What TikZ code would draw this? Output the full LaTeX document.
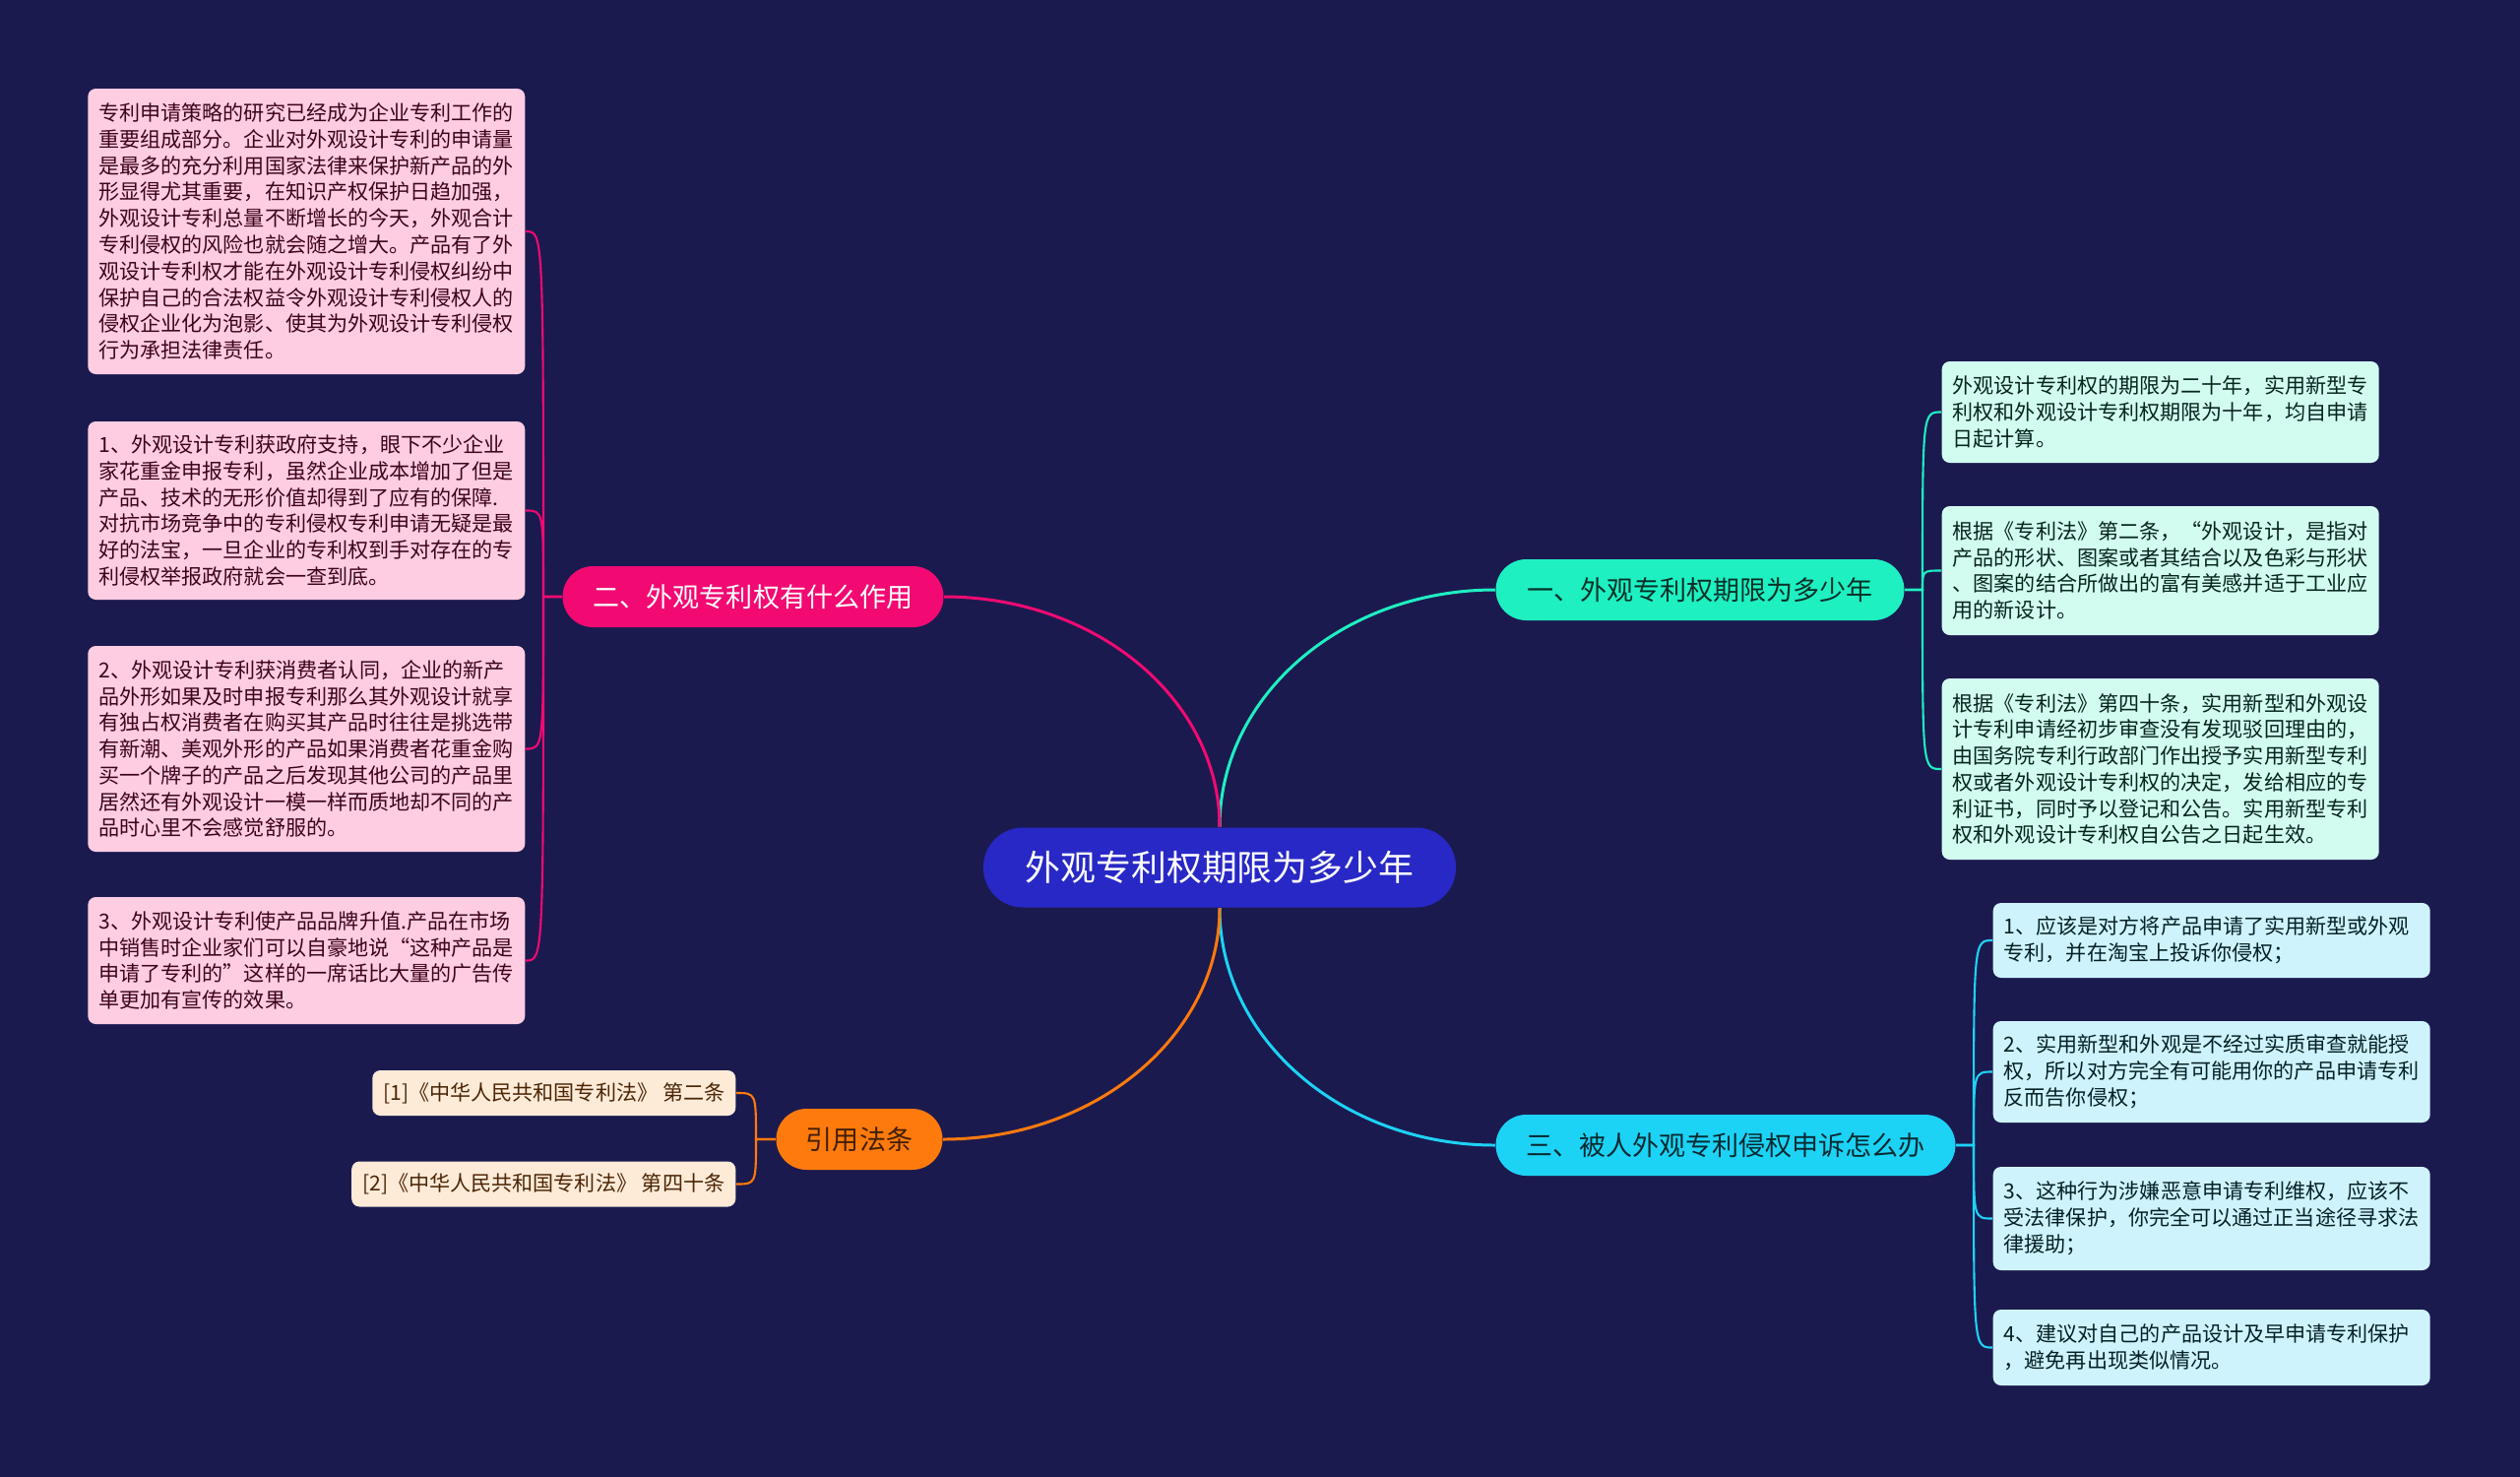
\documentclass[tikz,border=0pt]{standalone}
\usepackage{fontspec}
\newfontfamily\cjk{Noto Sans CJK SC}
\usepackage{tikz}
\definecolor{cbg}{HTML}{1B1A4F}
\definecolor{chub}{HTML}{2828C6}
\definecolor{cmint}{HTML}{1EF0C2}
\definecolor{cpink}{HTML}{F20A72}
\definecolor{ccyan}{HTML}{1DD3F5}
\definecolor{corange}{HTML}{FF7A0C}
\definecolor{lmint}{HTML}{D3FCF1}
\definecolor{lpink}{HTML}{FFCDE2}
\definecolor{lcyan}{HTML}{CFF3FC}
\definecolor{lorange}{HTML}{FDEBD8}

\begin{document}
\begin{tikzpicture}[x=0.1mm, y=-0.1mm,
    hub/.style={fill=chub, text=white, rounded corners=4mm, minimum width=48mm,
                minimum height=8.1mm, font=\cjk\fontsize{10.2}{12}\selectfont},
    topic/.style={rounded corners=3.1mm, minimum height=6.2mm, inner xsep=0pt,
                  font=\cjk\fontsize{7.7}{9}\selectfont},
    leaf/.style={rounded corners=0.8mm, inner xsep=1.1mm, inner ysep=0pt, align=left,
                 text width=42.2mm, font=\cjk\fontsize{6}{7.62}\selectfont},
    citebox/.style={rounded corners=0.8mm, inner xsep=1.1mm, minimum height=4.6mm,
                    fill=lorange, text=corange!30!black, font=\cjk\fontsize{6}{7.62}\selectfont},
    link/.style={line width=0.85pt}, twig/.style={line width=0.6pt}]
  \useasboundingbox (0,0) rectangle (2560,1499);
  \fill[cbg] (-10,-10) rectangle (2570,1509);
  % centre and the four topics
  \node[hub] (c) at (1239,881) {外观专利权期限为多少年};
  \node[topic, fill=cmint, text=cmint!20!black, minimum width=41.5mm] (b1) at (1727,599) {一、外观专利权期限为多少年};
  \node[topic, fill=cpink, text=white, minimum width=38.7mm] (b2) at (765,606) {二、外观专利权有什么作用};
  \node[topic, fill=ccyan, text=ccyan!20!black, minimum width=46.7mm] (b3) at (1753,1163) {三、被人外观专利侵权申诉怎么办};
  \node[topic, fill=corange, text=corange!25!black, minimum width=16.9mm] (b4) at (873,1157) {引用法条};
  \draw[link, cmint] (c.north) .. controls +(0,-133) and +(-155,0) .. (b1.west);
  \draw[link, cpink] (c.north) .. controls +(0,-129) and +(155,0) .. (b2.east);
  \draw[link, ccyan] (c.south) .. controls +(0,133) and +(-155,0) .. (b3.west);
  \draw[link, corange] (c.south) .. controls +(0,129) and +(155,0) .. (b4.east);
  % trunks next to the topics
  \coordinate (t1) at (1953,599);
  \coordinate (t2) at (552,606);
  \coordinate (t3) at (2005,1163);
  \coordinate (t4) at (768,1157);
  % what the design patent is good for
  \node[leaf, fill=lpink, text=cpink!25!black, minimum height=29mm, anchor=east] (l1) at (534,235)
    {专利申请策略的研究已经成为企业专利工作的\\重要组成部分。企业对外观设计专利的申请量\\是最多的充分利用国家法律来保护新产品的外\\形显得尤其重要，在知识产权保护日趋加强，\\外观设计专利总量不断增长的今天，外观合计\\专利侵权的风险也就会随之增大。产品有了外\\观设计专利权才能在外观设计专利侵权纠纷中\\保护自己的合法权益令外观设计专利侵权人的\\侵权企业化为泡影、使其为外观设计专利侵权\\行为承担法律责任。};
  \node[leaf, fill=lpink, text=cpink!25!black, minimum height=18.1mm, anchor=east] (l2) at (534,518.5)
    {1、外观设计专利获政府支持，眼下不少企业\\家花重金申报专利，虽然企业成本增加了但是\\产品、技术的无形价值却得到了应有的保障.\\对抗市场竞争中的专利侵权专利申请无疑是最\\好的法宝，一旦企业的专利权到手对存在的专\\利侵权举报政府就会一查到底。};
  \node[leaf, fill=lpink, text=cpink!25!black, minimum height=20.9mm, anchor=east] (l3) at (534,760.5)
    {2、外观设计专利获消费者认同，企业的新产\\品外形如果及时申报专利那么其外观设计就享\\有独占权消费者在购买其产品时往往是挑选带\\有新潮、美观外形的产品如果消费者花重金购\\买一个牌子的产品之后发现其他公司的产品里\\居然还有外观设计一模一样而质地却不同的产\\品时心里不会感觉舒服的。};
  \node[leaf, fill=lpink, text=cpink!25!black, minimum height=12.9mm, anchor=east] (l4) at (534,975.5)
    {3、外观设计专利使产品品牌升值.产品在市场\\中销售时企业家们可以自豪地说“这种产品是\\申请了专利的”这样的一席话比大量的广告传\\单更加有宣传的效果。};
  \draw[twig, cpink] (b2.west) -- (t2) .. controls (t2 |- l1.east) and (t2 |- l1.east) .. (l1.east);
  \draw[twig, cpink] (b2.west) -- (t2) .. controls (t2 |- l2.east) and (t2 |- l2.east) .. (l2.east);
  \draw[twig, cpink] (b2.west) -- (t2) .. controls (t2 |- l3.east) and (t2 |- l3.east) .. (l3.east);
  \draw[twig, cpink] (b2.west) -- (t2) .. controls (t2 |- l4.east) and (t2 |- l4.east) .. (l4.east);
  % term of protection
  \node[leaf, fill=lmint, text=cmint!15!black, minimum height=10.3mm, anchor=west] (r1) at (1972,418.5)
    {外观设计专利权的期限为二十年，实用新型专\\利权和外观设计专利权期限为十年，均自申请\\日起计算。};
  \node[leaf, fill=lmint, text=cmint!15!black, minimum height=13.1mm, anchor=west] (r2) at (1972,579.5)
    {根据《专利法》第二条，“外观设计，是指对\\产品的形状、图案或者其结合以及色彩与形状\\、图案的结合所做出的富有美感并适于工业应\\用的新设计。};
  \node[leaf, fill=lmint, text=cmint!15!black, minimum height=18.4mm, anchor=west] (r3) at (1972,781)
    {根据《专利法》第四十条，实用新型和外观设\\计专利申请经初步审查没有发现驳回理由的，\\由国务院专利行政部门作出授予实用新型专利\\权或者外观设计专利权的决定，发给相应的专\\利证书，同时予以登记和公告。实用新型专利\\权和外观设计专利权自公告之日起生效。};
  \draw[twig, cmint] (b1.east) -- (t1) .. controls (t1 |- r1.west) and (t1 |- r1.west) .. (r1.west);
  \draw[twig, cmint] (b1.east) -- (t1) .. controls (t1 |- r2.west) and (t1 |- r2.west) .. (r2.west);
  \draw[twig, cmint] (b1.east) -- (t1) .. controls (t1 |- r3.west) and (t1 |- r3.west) .. (r3.west);
  % complaint
  \node[leaf, fill=lcyan, text=ccyan!15!black, minimum height=7.6mm, anchor=west] (s1) at (2024,955)
    {1、应该是对方将产品申请了实用新型或外观\\专利，并在淘宝上投诉你侵权；};
  \node[leaf, fill=lcyan, text=ccyan!15!black, minimum height=10.3mm, anchor=west] (s2) at (2024,1088.5)
    {2、实用新型和外观是不经过实质审查就能授\\权，所以对方完全有可能用你的产品申请专利\\反而告你侵权；};
  \node[leaf, fill=lcyan, text=ccyan!15!black, minimum height=10.5mm, anchor=west] (s3) at (2024,1237.5)
    {3、这种行为涉嫌恶意申请专利维权，应该不\\受法律保护，你完全可以通过正当途径寻求法\\律援助；};
  \node[leaf, fill=lcyan, text=ccyan!15!black, minimum height=7.7mm, anchor=west] (s4) at (2024,1368.5)
    {4、建议对自己的产品设计及早申请专利保护\\，避免再出现类似情况。};
  \draw[twig, ccyan] (b3.east) -- (t3) .. controls (t3 |- s1.west) and (t3 |- s1.west) .. (s1.west);
  \draw[twig, ccyan] (b3.east) -- (t3) .. controls (t3 |- s2.west) and (t3 |- s2.west) .. (s2.west);
  \draw[twig, ccyan] (b3.east) -- (t3) .. controls (t3 |- s3.west) and (t3 |- s3.west) .. (s3.west);
  \draw[twig, ccyan] (b3.east) -- (t3) .. controls (t3 |- s4.west) and (t3 |- s4.west) .. (s4.west);
  % cited articles
  \node[citebox, anchor=east] (f1) at (748,1110) {[1]《中华人民共和国专利法》 第二条};
  \node[citebox, anchor=east] (f2) at (748,1202.5) {[2]《中华人民共和国专利法》 第四十条};
  \draw[twig, corange] (b4.west) -- (t4) .. controls (t4 |- f1.east) and (t4 |- f1.east) .. (f1.east);
  \draw[twig, corange] (b4.west) -- (t4) .. controls (t4 |- f2.east) and (t4 |- f2.east) .. (f2.east);
\end{tikzpicture}
\end{document}
